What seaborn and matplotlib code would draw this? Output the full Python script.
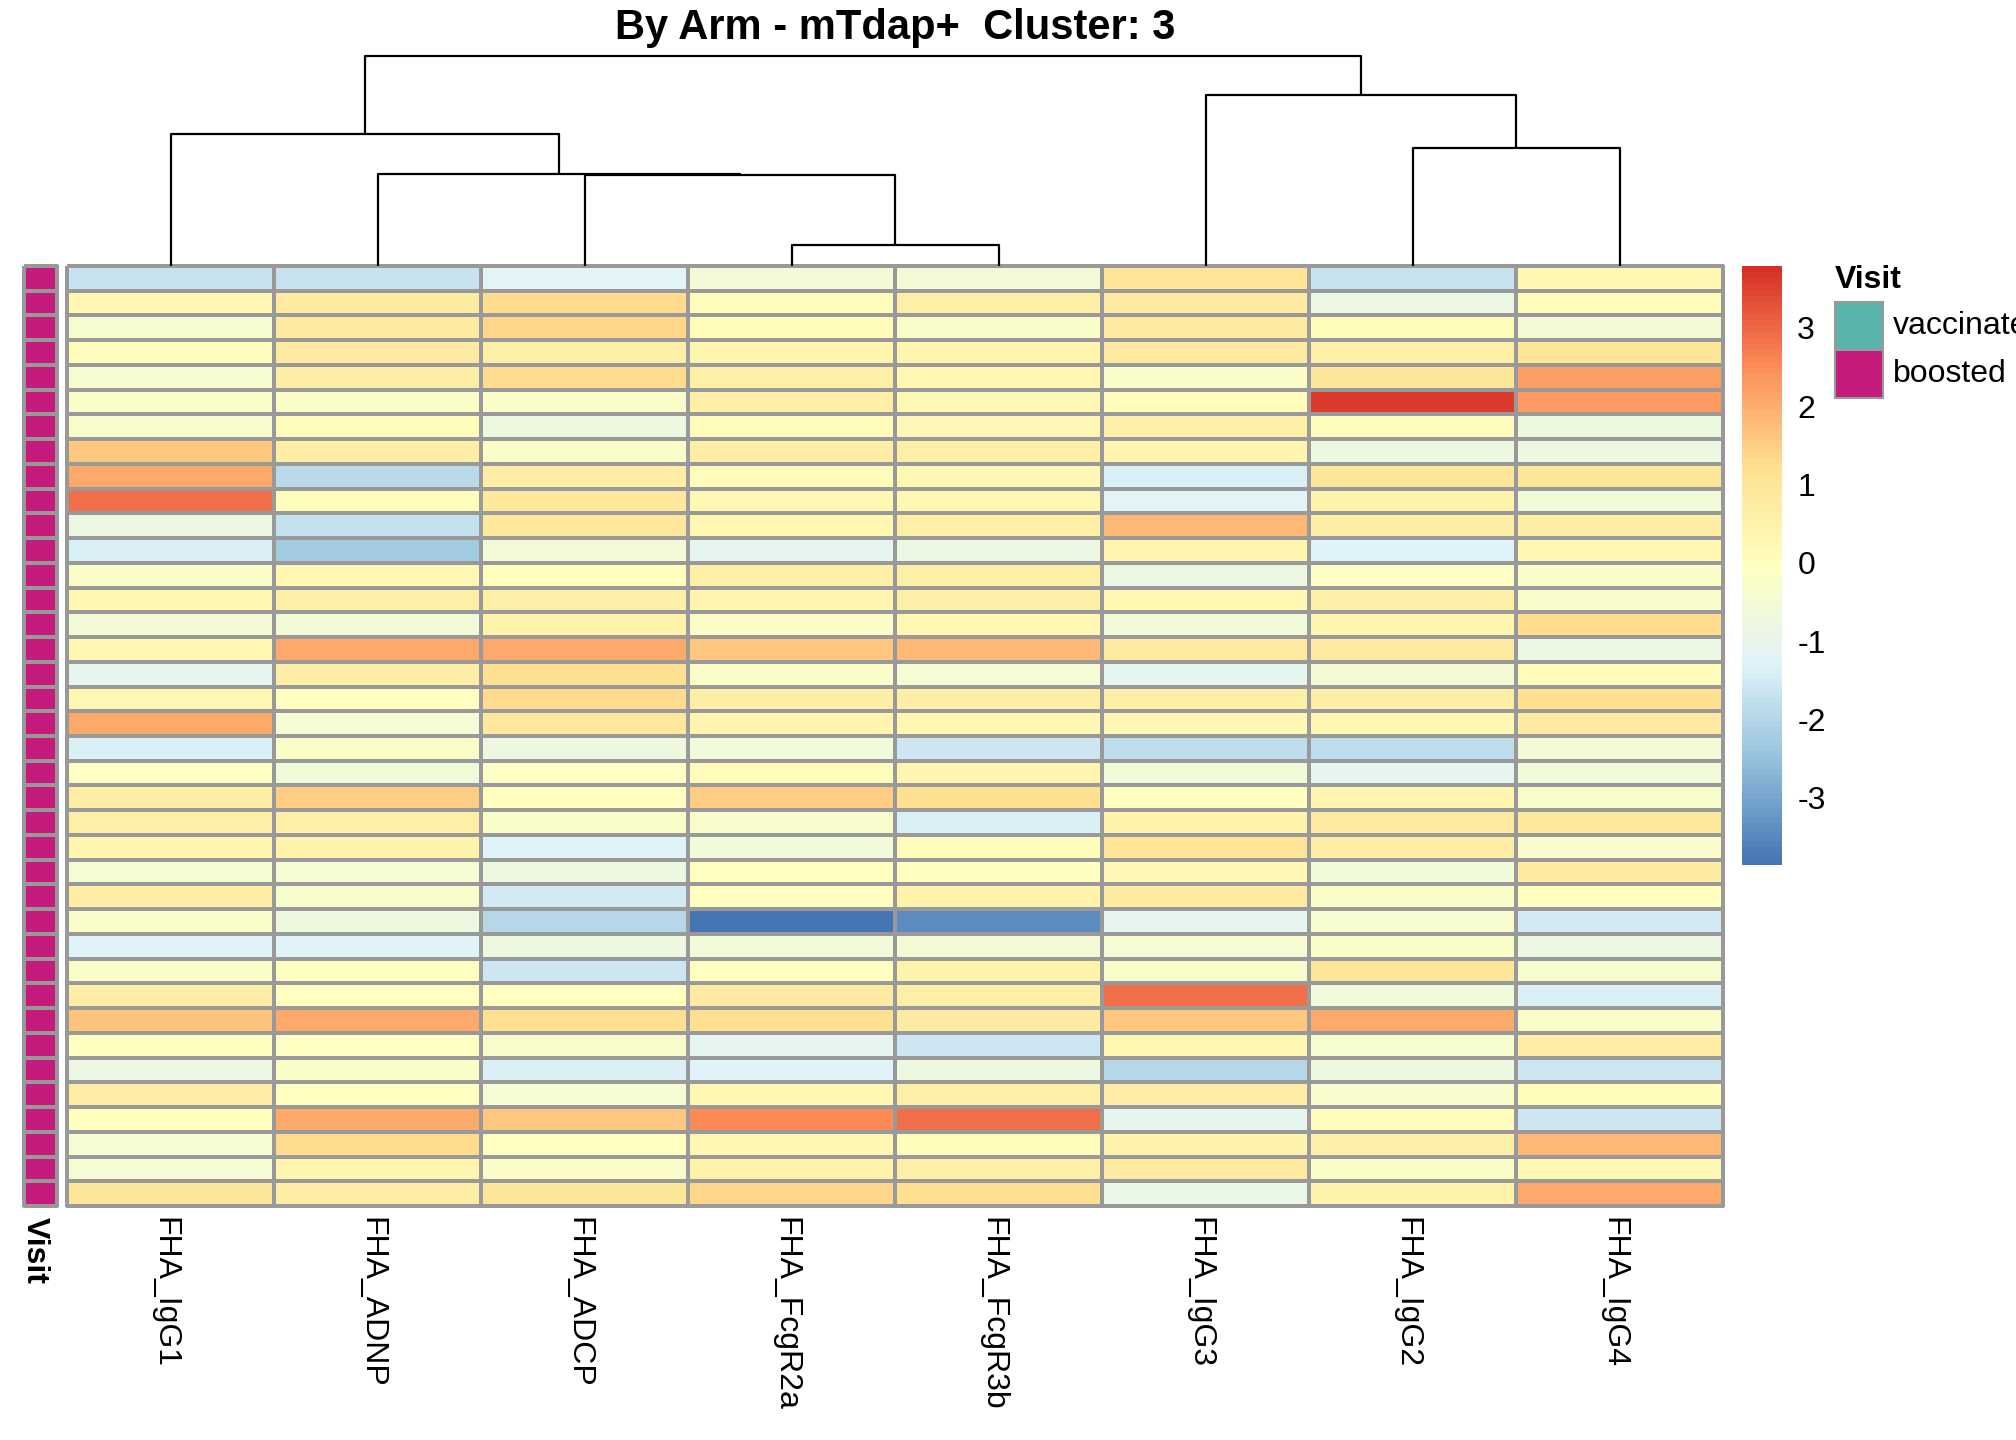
import numpy as np
import pandas as pd
import matplotlib
matplotlib.use("Agg")
import matplotlib.pyplot as plt
import matplotlib.transforms as mtransforms
from matplotlib.colors import LinearSegmentedColormap, ListedColormap
from matplotlib.patches import Rectangle
import seaborn as sns

# ---- data (rows top to bottom) ----
col_labels = ["FHA_IgG1", "FHA_ADNP", "FHA_ADCP", "FHA_FcgR2a",
              "FHA_FcgR3b", "FHA_IgG3", "FHA_IgG2", "FHA_IgG4"]

igg1 = [-1.7, 0.3, -0.4, 0.05, -0.4, -0.2, -0.3, 1.6, 2.05, 2.9,
        -0.85, -1.35, -0.2, 0.3, -0.5, 0.3, -1.1, 0.3, 2.1, -1.35,
        -0.15, 0.7, 0.6, 0.4, -0.45, 0.7, -0.2, -1.3, -0.2, 0.7,
        1.7, -0.1, -0.85, 0.7, 0.0, -0.45, -0.45, 1.0]
adnp = [-1.7, 0.8, 0.8, 0.8, 0.7, -0.2, 0.05, 0.7, -1.9, 0.05,
        -1.75, -2.3, 0.3, 0.6, -0.6, 2.1, 0.7, 0.0, -0.45, -0.2,
        -0.6, 1.5, 0.6, 0.5, -0.45, -0.3, -0.75, -1.3, 0.0, 0.0,
        2.05, -0.15, -0.2, 0.0, 2.05, 1.3, 0.4, 0.7]
adcp = [-1.2, 1.3, 1.4, 0.6, 1.3, -0.2, -0.75, -0.2, 0.7, 0.9,
        0.9, -0.5, 0.0, 0.6, 0.5, 2.1, 1.2, 1.3, 0.9, -0.75,
        -0.15, 0.0, -0.2, -1.3, -0.75, -1.5, -1.95, -0.75, -1.6, 0.0,
        1.2, -0.3, -1.4, -0.45, 1.6, 0.0, -0.2, 1.0]
fcgr2a = [-0.55, 0.05, 0.05, 0.4, 0.6, 0.6, 0.1, 0.7, 0.1, 0.2,
          0.3, -1.1, 0.6, 0.4, -0.2, 1.6, -0.25, 0.7, 0.4, -0.6,
          0.1, 1.5, -0.3, -0.6, 0.0, 0.0, -3.85, -0.6, 0.0, 0.8,
          1.2, -1.1, -1.3, 0.3, 2.5, 0.3, 0.5, 1.4]
fcgr3b = [-0.55, 0.6, -0.2, 0.4, 0.3, 0.2, 0.2, 0.6, 0.2, 0.3,
          0.6, -0.85, 0.6, 0.6, 0.2, 1.85, -0.45, 0.7, 0.3, -1.6,
          0.4, 1.2, -1.4, 0.1, -0.1, 0.5, -3.45, -0.5, 0.5, 0.6,
          0.8, -1.6, -0.75, 0.6, 2.9, 0.05, 0.6, 1.2]
igg3 = [1.1, 0.8, 0.8, 0.8, -0.2, 0.1, 0.6, 0.4, -1.4, -1.2,
        1.85, 0.4, -0.85, 0.3, -0.6, 0.8, -1.05, 0.6, 0.2, -1.85,
        -0.6, 0.0, 0.5, 1.1, 0.2, 0.8, -1.05, -0.45, -0.3, 2.9,
        1.6, 0.3, -1.95, 0.7, -1.1, 0.5, 0.8, -0.95]
igg2 = [-1.7, -0.8, 0.05, 0.6, 1.0, 3.6, 0.05, -0.75, 1.0, 0.5,
        0.7, -1.3, -0.15, 0.6, 0.4, 0.8, -0.5, 0.7, 0.3, -1.85,
        -1.1, 0.4, 0.8, 0.7, -0.6, -0.2, -0.4, -0.2, 1.0, -0.6,
        2.1, -0.4, -0.75, -0.3, 0.05, 0.6, -0.2, 0.5]
igg4 = [0.3, 0.1, -0.5, 1.0, 2.25, 2.3, -0.75, -0.75, 1.0, -0.6,
        0.7, 0.3, -0.2, -0.3, 1.3, -0.8, 0.1, 1.2, 0.8, -0.5,
        -0.6, -0.3, 0.9, -0.3, 0.8, 0.0, -1.5, -0.8, -0.4, -1.4,
        -0.2, 0.7, -1.6, 0.1, -1.6, 1.85, 0.2, 2.05]

visit = ["boosted"] * 38
visit_levels = ["vaccinated", "boosted"]
visit_colors = ["#5AB4AC", "#C51B7D"]

# column dendrogram: (left, right, height); ints refer to earlier merges
col_merges = [("FHA_FcgR2a", "FHA_FcgR3b", 20.7),
              ("FHA_ADCP", 0, 91.0),
              ("FHA_ADNP", 1, 92.3),
              ("FHA_IgG2", "FHA_IgG4", 118.0),
              ("FHA_IgG1", 2, 131.7),
              ("FHA_IgG3", 3, 170.7),
              (4, 5, 210.0)]

vmin, vmax = -3.86, 3.79
cbar_ticks = [-3, -2, -1, 0, 1, 2, 3]

# ---- style ----
sns.set_theme(style="white")
plt.rcParams["font.family"] = ["Liberation Sans", "DejaVu Sans"]
plt.rcParams["text.color"] = "black"
plt.rcParams["xtick.color"] = "black"
plt.rcParams["ytick.color"] = "black"
grid_grey = "#999999"

mat = pd.DataFrame(dict(zip(col_labels, [igg1, adnp, adcp, fcgr2a,
                                         fcgr3b, igg3, igg2, igg4])))
palette = ["#4575B4", "#91BFDB", "#E0F3F8", "#FFFFBF",
           "#FEE090", "#FC8D59", "#D73027"]
cmap = LinearSegmentedColormap.from_list("rdylbu_r", palette, N=100)

fig = plt.figure(figsize=(20.16, 14.4), dpi=100)
W, H = 2016, 1440

def box(x0, y0, x1, y1):
    # pixel box (top-left origin) -> figure fraction rect
    return [x0 / W, 1 - y1 / H, (x1 - x0) / W, (y1 - y0) / H]

ax = fig.add_axes(box(67, 266, 1723, 1206))
cax = fig.add_axes(box(1742, 266, 1782, 865))
aax = fig.add_axes(box(24, 266, 57, 1206))
dax = fig.add_axes(box(67, 56, 1723, 266))

# nudge rotated labels a little to the left, like the reference
shift_left = mtransforms.ScaledTranslation(-6 / 100, 0, fig.dpi_scale_trans)

# main heatmap
sns.heatmap(mat, ax=ax, cmap=cmap, vmin=vmin, vmax=vmax,
            linewidths=1.5, linecolor=grid_grey, cbar_ax=cax,
            xticklabels=True, yticklabels=False)
ax.collections[0].set_clip_on(False)
ax.tick_params(axis="x", length=0, pad=8)
ax.set_xticklabels(col_labels, rotation=270, ha="center", va="top",
                   fontsize=23, color="black")
for lab in ax.get_xticklabels():
    lab.set_transform(lab.get_transform() + shift_left)
ax.set_xlabel("")
ax.set_ylabel("")

cbar = ax.collections[0].colorbar
cbar.outline.set_visible(False)
cbar.set_ticks(cbar_ticks)
cbar.set_ticklabels([str(t) for t in cbar_ticks])
cax.tick_params(length=0, pad=11, labelsize=23, labelcolor="black")

# annotation column
codes = pd.DataFrame({"Visit": [visit_levels.index(v) for v in visit]})
sns.heatmap(codes, ax=aax, cmap=ListedColormap(visit_colors),
            vmin=-0.5, vmax=1.5, cbar=False, linewidths=1.5,
            linecolor=grid_grey, xticklabels=True, yticklabels=False)
aax.collections[0].set_clip_on(False)
aax.tick_params(axis="x", length=0, pad=8)
aax.set_xticklabels(["Visit"], rotation=270, ha="center", va="top",
                    fontsize=23, fontweight="bold", color="black")
for lab in aax.get_xticklabels():
    lab.set_transform(lab.get_transform() + shift_left)

# dendrogram
leaf_pos = {name: i + 0.5 for i, name in enumerate(col_labels)}
nodes = []
def node_xy(ref):
    if isinstance(ref, str):
        return leaf_pos[ref], 0.0
    return nodes[ref]
for a, b, h in col_merges:
    xa, ha = node_xy(a)
    xb, hb = node_xy(b)
    dax.plot([xa, xa, xb, xb], [ha, h, h, hb], color="black", lw=1.6,
             clip_on=False, solid_capstyle="butt")
    nodes.append(((xa + xb) / 2, h))
dax.set_xlim(0, len(col_labels))
dax.set_ylim(0, max(m[2] for m in col_merges))
dax.axis("off")

# legend for Visit
fig.text(1835 / W, 1 - 280 / H, "Visit", fontsize=23, fontweight="bold",
         ha="left", va="center")
for i, (lvl, colr) in enumerate(zip(visit_levels, visit_colors)):
    y0 = 302 + i * 48
    fig.add_artist(Rectangle((1835 / W, 1 - (y0 + 48) / H), 48 / W, 48 / H,
                             transform=fig.transFigure, facecolor=colr,
                             edgecolor=grid_grey, lw=1.5))
    fig.text(1893 / W, 1 - (y0 + 24) / H, lvl, fontsize=23,
             ha="left", va="center")

fig.text((67 + 1723) / 2 / W, 1 - 28 / H, "By Arm - mTdap+  Cluster: 3",
         fontsize=30, fontweight="bold", ha="center", va="center")

fig.savefig("out.png", dpi=100)
